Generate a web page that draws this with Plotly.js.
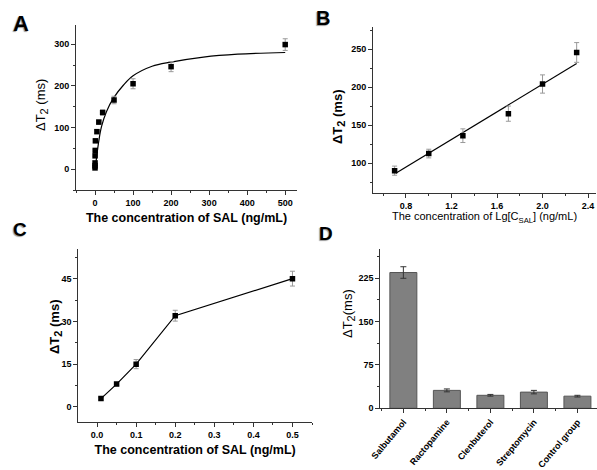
<!DOCTYPE html>
<html>
<head>
<meta charset="utf-8">
<script src="https://cdn.plot.ly/plotly-3.0.1.min.js"></script>
<style>html,body{margin:0;padding:0;background:#fff;}#chart{width:597px;height:470px;}</style>
</head>
<body>
<div id="chart"></div>
<script>
// Panel A: SAL concentration (ng/mL) vs ΔT2 (ms)
const aConc = [0.01, 0.05, 0.1, 0.2, 0.5, 1, 5, 10, 20, 50, 100, 200, 500];
const aDT2  = [3, 8, 15, 32, 45, 68, 90, 113, 136, 166, 205, 246, 299];
const aErr  = [1, 1, 1.5, 2, 2, 3, 4, 5, 6, 9, 12, 12, 14];
// Panel A fitted curve
const aFitX = [1, 3, 5, 9, 17, 30, 48, 75, 100, 150, 200, 285, 375, 500];
const aFitY = [3, 20, 35, 62, 102, 138, 170, 202, 224, 247, 257, 269, 276, 280];

// Panel B: Lg[C_SAL] vs ΔT2 (ms)
const bLg   = [0.7, 1.0, 1.3, 1.7, 2.0, 2.3];
const bDT2  = [90, 112.5, 136, 165, 204, 245.5];
const bErr  = [6, 5.7, 9, 10, 12, 13];
const bFitX = [0.71, 2.3];
const bFitY = [86.5, 231];

// Panel C: low SAL concentrations
const cConc = [0.01, 0.05, 0.1, 0.2, 0.5];
const cDT2  = [2.9, 8, 15, 32, 45];
const cErr  = [0.5, 0.6, 1.6, 1.9, 2.6];

// Panel D: selectivity
const dNames = ['Salbutamol', 'Ractopamine', 'Clenbuterol', 'Streptomycin', 'Control group'];
const dDT2   = [235, 31, 22.5, 28, 21];
const dErr   = [10, 2.5, 1.5, 3, 1.5];

const FONT = 'Liberation Sans, Arial, sans-serif';
const W = 597, H = 470;
const dx = (a, b) => [a / W, b / W];
const dy = (top, bottom) => [1 - bottom / H, 1 - top / H];

const tickFont = {family: FONT, size: 9, color: '#000', weight: 'bold'};
function axis(extra) {
  return Object.assign({
    showline: true, linecolor: '#333', linewidth: 1,
    ticks: 'outside', ticklen: 4, tickwidth: 1, tickcolor: '#333',
    showgrid: false, zeroline: false, tickfont: tickFont,
    fixedrange: true
  }, extra);
}
function minor(d) {
  return {ticks: 'outside', ticklen: 2, tickwidth: 1, tickcolor: '#333', dtick: d, showgrid: false};
}

const markerSq = {symbol: 'square', size: 5.5, color: '#000'};
const errStyle = (arr) => ({type: 'data', array: arr, visible: true, color: '#999', thickness: 1, width: 2.5});

const traces = [
  {x: aFitX, y: aFitY, type: 'scatter', mode: 'lines', line: {color: '#000', width: 1.2, shape: 'spline'}, xaxis: 'x', yaxis: 'y', hoverinfo: 'skip'},
  {x: aConc, y: aDT2, type: 'scatter', mode: 'markers', marker: markerSq, error_y: errStyle(aErr), xaxis: 'x', yaxis: 'y'},
  {x: bFitX, y: bFitY, type: 'scatter', mode: 'lines', line: {color: '#000', width: 1.2}, xaxis: 'x2', yaxis: 'y2', hoverinfo: 'skip'},
  {x: bLg, y: bDT2, type: 'scatter', mode: 'markers', marker: markerSq, error_y: errStyle(bErr), xaxis: 'x2', yaxis: 'y2'},
  {x: cConc, y: cDT2, type: 'scatter', mode: 'lines+markers', line: {color: '#000', width: 1.2}, marker: markerSq, error_y: errStyle(cErr), xaxis: 'x3', yaxis: 'y3'},
  {x: dNames.map((_, i) => i), y: dDT2, type: 'bar', width: 0.62,
   marker: {color: '#808080', line: {color: '#555', width: 1}},
   error_y: {type: 'data', array: dErr, visible: true, color: '#333', thickness: 1, width: 3},
   xaxis: 'x4', yaxis: 'y4'}
];

const xTitle = (size, bold, text, standoff) => ({text: text, standoff: standoff, font: {family: FONT, size: size, color: '#000', weight: bold ? 'bold' : 'normal'}});
const SUB2 = '<sub><span style="font-size:11px">2</span></sub>';

const letters = [
  {text: 'A', x: 21, y: 23, size: 22},
  {text: 'B', x: 323, y: 18, size: 20},
  {text: 'C', x: 20, y: 230, size: 19},
  {text: 'D', x: 326, y: 234, size: 19}
].map(a => ({text: a.text, x: a.x / W, y: 1 - a.y / H, xref: 'paper', yref: 'paper', showarrow: false,
             xanchor: 'center', yanchor: 'middle',
             font: {family: FONT, size: a.size, color: '#000', weight: 'bold', shadow: '-1px 1px 1px #999'}}));

const yTitles = [
  {text: 'ΔT' + SUB2 + ' (ms)', x: 42, y: 105, bold: false},
  {text: 'ΔT' + SUB2 + ' (ms)', x: 339, y: 117, bold: true},
  {text: 'ΔT' + SUB2 + ' (ms)', x: 55, y: 327, bold: true},
  {text: 'ΔT' + SUB2 + '(ms)', x: 348, y: 314, bold: false}
].map(a => ({text: a.text, x: a.x / W, y: 1 - a.y / H, xref: 'paper', yref: 'paper', showarrow: false,
             textangle: -90, xanchor: 'center', yanchor: 'middle',
             font: {family: FONT, size: 13, color: '#000', weight: a.bold ? 'bold' : 'normal'}}));

const layout = {
  width: W, height: H,
  margin: {l: 0, r: 0, t: 0, b: 0},
  paper_bgcolor: '#fff', plot_bgcolor: 'rgba(0,0,0,0)',
  showlegend: false,
  // A
  xaxis: axis({domain: dx(76, 297), anchor: 'y', range: [-50, 531], tickvals: [0, 100, 200, 300, 400, 500], minor: minor(50),
               title: xTitle(12.5, true, 'The concentration of SAL (ng/mL)', 6)}),
  yaxis: axis({domain: dy(25, 190), anchor: 'x', range: [-50, 346], tickvals: [0, 100, 200, 300], minor: minor(50)}),
  // B
  xaxis2: axis({domain: dx(373, 596), anchor: 'y2', range: [0.51, 2.47], tickvals: [0.8, 1.2, 1.6, 2.0, 2.4], ticktext: ['0.8', '1.2', '1.6', '2.0', '2.4'], minor: Object.assign(minor(0.2), {tick0: 0.6}),
                title: xTitle(11, false, 'The concentration of Lg[C<sub>SAL</sub>] (ng/mL)', 2)}),
  yaxis2: axis({domain: dy(27, 192.7), anchor: 'x2', range: [61, 279], tickvals: [100, 150, 200, 250], minor: minor(25)}),
  // C
  xaxis3: axis({domain: dx(78.3, 312), anchor: 'y3', range: [-0.048, 0.55], tickvals: [0, 0.1, 0.2, 0.3, 0.4, 0.5], ticktext: ['0.0', '0.1', '0.2', '0.3', '0.4', '0.5'], minor: minor(0.05),
                title: xTitle(12.5, true, 'The concentration of SAL (ng/mL)', 6)}),
  yaxis3: axis({domain: dy(249, 421.7), anchor: 'x3', range: [-5.2, 55.4], tickvals: [0, 15, 30, 45], minor: minor(7.5)}),
  // D
  xaxis4: axis({domain: dx(380.3, 597), anchor: 'y4', range: [-0.53, 4.45], tickvals: [0, 1, 2, 3, 4], ticktext: dNames, tickangle: -50,
                minor: Object.assign(minor(1), {tick0: 0.5}), tickfont: {family: FONT, size: 9, color: '#000', weight: 'bold'}}),
  yaxis4: axis({domain: dy(249, 408.3), anchor: 'x4', range: [0, 275.7], tickvals: [0, 75, 150, 225], minor: minor(37.5)}),
  annotations: letters.concat(yTitles)
};

Plotly.newPlot('chart', traces, layout, {staticPlot: true, displayModeBar: false});
</script>
</body>
</html>
